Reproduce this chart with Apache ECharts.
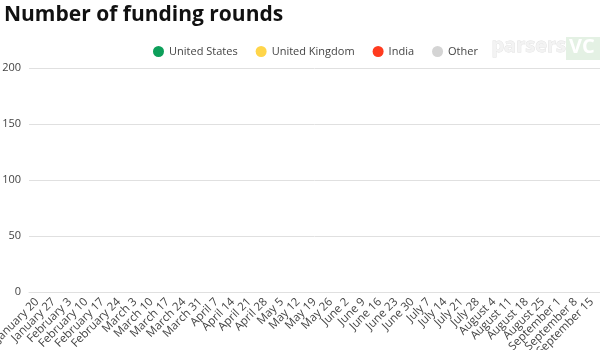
<!DOCTYPE html>
<html><head><meta charset="utf-8">
<script src="https://cdn.jsdelivr.net/npm/echarts@6/dist/echarts.min.js"></script>
<style>html,body{margin:0;padding:0;background:#fff}#c{width:600px;height:350px}</style>
</head><body><div id="c"></div>
<script>
var categories = ["January 20","January 27","February 3","February 10","February 17","February 24","March 3","March 10","March 17","March 24","March 31","April 7","April 14","April 21","April 28","May 5","May 12","May 19","May 26","June 2","June 9","June 16","June 23","June 30","July 7","July 14","July 21","July 28","August 4","August 11","August 18","August 25","September 1","September 8","September 15"];
var unitedStates = [0,0,0,0,0,0,0,0,0,0,0,0,0,0,0,0,0,0,0,0,0,0,0,0,0,0,0,0,0,0,0,0,0,0,0];
var unitedKingdom = [0,0,0,0,0,0,0,0,0,0,0,0,0,0,0,0,0,0,0,0,0,0,0,0,0,0,0,0,0,0,0,0,0,0,0];
var india = [0,0,0,0,0,0,0,0,0,0,0,0,0,0,0,0,0,0,0,0,0,0,0,0,0,0,0,0,0,0,0,0,0,0,0];
var other = [0,0,0,0,0,0,0,0,0,0,0,0,0,0,0,0,0,0,0,0,0,0,0,0,0,0,0,0,0,0,0,0,0,0,0];
var seriesNames = ["United States","United Kingdom","India","Other"];
var colors = ["#0d9f5a","#ffd54a","#ff3b1f","#d4d4d4"];
var yTicks = [0,50,100,150,200];

var chart = echarts.init(document.getElementById('c'));
var font = "'Open Sans', sans-serif";
var dataSets = [unitedStates, unitedKingdom, india, other];
chart.setOption({
  animation: false,
  color: colors,
  textStyle: {fontFamily: font},
  title: {text: "Number of funding rounds", left: -1, top: 0,
    textStyle: {fontFamily: font, fontWeight: 'bold', fontSize: 21, color: '#111'}},
  legend: {data: seriesNames, top: 41, left: 148, icon: 'circle', itemWidth: 11, itemHeight: 11, itemGap: 18,
    textStyle: {fontFamily: font, fontSize: 11, color: '#444'}},
  graphic: [
    {type: 'text', left: 491, top: 36, style: {text: 'parsers', fontFamily: font, fontWeight: 'bold', fontSize: 20, fill: '#f3f3f3', stroke: '#e0e0e0', lineWidth: 0.8}},
    {type: 'rect', left: 566, top: 37, shape: {width: 34, height: 23}, style: {fill: '#e4f1e4'}},
    {type: 'text', left: 569, top: 37, style: {text: 'VC', fontFamily: font, fontWeight: 'bold', fontSize: 20, fill: '#ffffff'}}
  ],
  grid: {left: 29, right: 0, top: 68, bottom: 58, containLabel: false, outerBoundsMode: 'none'},
  xAxis: {type: 'category', data: categories,
    axisLine: {show: true, lineStyle: {color: '#e0e0e0'}}, axisTick: {show: false},
    axisLabel: {rotate: 45, interval: 0, fontSize: 11.5, color: '#444', margin: 8, fontFamily: font}},
  yAxis: {type: 'value', min: yTicks[0], max: yTicks[yTicks.length-1], interval: 50,
    axisLine: {show: false}, axisTick: {show: false},
    axisLabel: {fontSize: 11, color: '#444', margin: 8, fontFamily: font},
    splitLine: {lineStyle: {color: '#e0e0e0'}}},
  series: seriesNames.map(function(n, i){
    return {name: n, type: 'bar', stack: 'total', data: dataSets[i], barWidth: '70%'};
  })
});
</script></body></html>
